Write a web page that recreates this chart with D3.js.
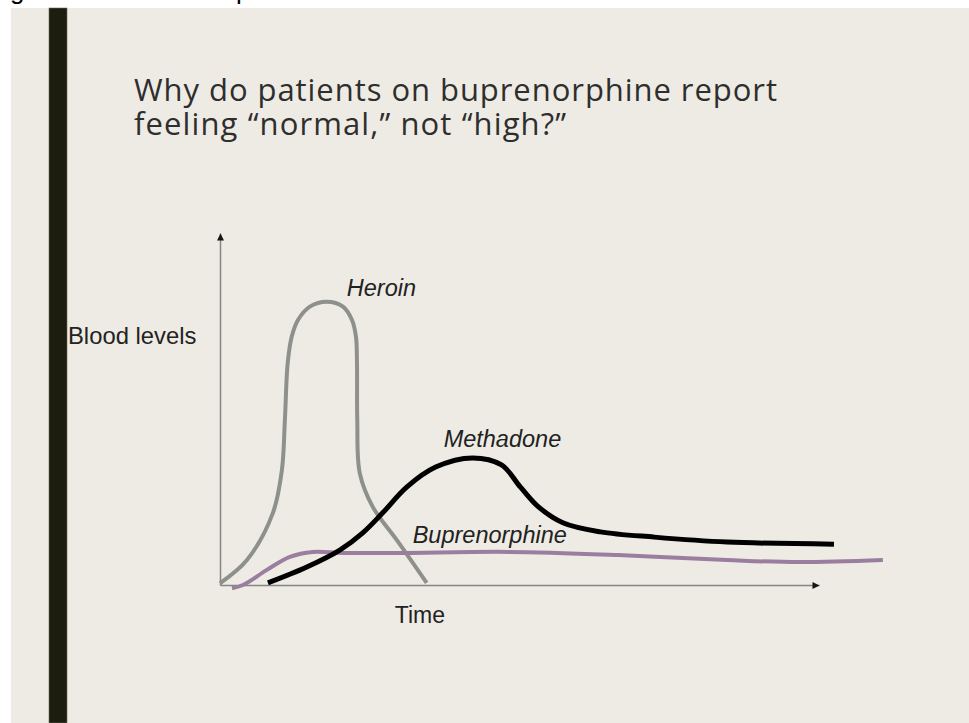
<!DOCTYPE html>
<html>
<head>
<meta charset="utf-8">
<script src="https://cdn.jsdelivr.net/npm/d3@7"></script>
<style>
  body { margin: 0; background: #ffffff; }
  svg { display: block; }
</style>
</head>
<body>
<svg id="canvas" width="969" height="723"></svg>
<script>
// title text
let titleLines = ['Why do patients on buprenorphine report', 'feeling \u201cnormal,\u201d not \u201chigh?\u201d']

// curves: [time, blood level]
let heroin = [[0, 0.5], [2.7, 7.1], [5.3, 20.5], [6.2, 32.7], [6.5, 46.9], [6.78, 63.0], [7.18, 70.5],
    [7.81, 75.3], [9.0, 79.1], [10.69, 80.5], [12.32, 79.1], [13.22, 75.3], [13.62, 70.5], [13.72, 63.0],
    [13.75, 46.9], [14.0, 31.8], [15.3, 22.2], [17.7, 12.8], [20.7, 0.6]]
let methadone = [[4.8, 0.6], [8.7, 5.1], [12.0, 9.9], [14.3, 14.8], [16.3, 20.5], [18.7, 27.8], [21.6, 33.5],
    [25.3, 36.1], [28.2, 34.1], [30.1, 27.8], [31.9, 22.2], [34.4, 17.6], [38.1, 15.1], [43.5, 13.6],
    [50.8, 12.2], [61.5, 11.6]]
let buprenorphine = [[1.2, -0.9], [2.3, 0], [4.7, 4.3], [7.0, 8.0], [9.3, 9.4], [12.3, 9.1], [18.0, 9.1],
    [28.9, 9.4], [39.9, 8.5], [50.8, 7.1], [58.0, 6.5], [66.4, 7.1]]

let curveNames = ['Heroin', 'Buprenorphine', 'Methadone']
let curveColors = ['#8e908b', '#9b7e9f', '#000000']
let curveWidths = [4, 4, 5]
let labelTimes = [12.7, 19.3, 22.4]
let labelLevels = [82.1, 11.9, 39.1]

let timeDomain = [0, 60]
let levelDomain = [0, 100]

let canvas = d3.select('#canvas')

let xScale = d3.scaleLinear().domain(timeDomain).range([220, 819])
let yScale = d3.scaleLinear().domain(levelDomain).range([585, 233])

// slide background
canvas.append('rect')
    .attr('x', 11).attr('y', 8)
    .attr('width', 958).attr('height', 715)
    .attr('fill', '#eeebe4')

canvas.append('rect')
    .attr('x', 49).attr('y', 8)
    .attr('width', 18).attr('height', 715)
    .attr('fill', '#1c1c0f')
    .attr('stroke', '#6b6b5c')
    .attr('stroke-width', 0.6)

// cut-off text from the page above
canvas.append('text').attr('x', 10).attr('y', -1)
    .style('font', '26px "Liberation Sans", Arial, sans-serif').text('g')
canvas.append('text').attr('x', 236).attr('y', -1)
    .style('font', '26px "Liberation Sans", Arial, sans-serif').text('p')

// title
let titleWidths = [643, 432]
canvas.append('text')
    .attr('x', 134)
    .attr('fill', '#2e2e2e')
    .style('font-family', '"Open Sans", sans-serif')
    .style('font-size', '31px')
    .selectAll('tspan')
    .data(titleLines)
    .enter().append('tspan')
    .attr('x', 134)
    .attr('y', (d, i) => 101 + i * 34)
    .attr('textLength', (d, i) => titleWidths[i])
    .attr('lengthAdjust', 'spacing')
    .text(d => d)

// arrow markers
let defs = canvas.append('defs')
defs.append('marker')
    .attr('id', 'arrowX')
    .attr('viewBox', '0 0 10 10')
    .attr('refX', 10).attr('refY', 5)
    .attr('markerWidth', 9).attr('markerHeight', 7)
    .attr('markerUnits', 'userSpaceOnUse')
    .attr('orient', 0)
    .append('path').attr('d', 'M0,0L10,5L0,10z').attr('fill', '#151515')
defs.append('marker')
    .attr('id', 'arrowY')
    .attr('viewBox', '0 0 10 10')
    .attr('refX', 10).attr('refY', 5)
    .attr('markerWidth', 9).attr('markerHeight', 7)
    .attr('markerUnits', 'userSpaceOnUse')
    .attr('orient', -90)
    .append('path').attr('d', 'M0,0L10,5L0,10z').attr('fill', '#151515')

// axes (no ticks)
let xAxisG = canvas.append('g')
    .attr('transform', 'translate(0,' + yScale(0) + ')')
    .call(d3.axisBottom(xScale).tickValues([]).tickSizeOuter(0))
xAxisG.select('.domain')
    .attr('stroke', '#858585')
    .attr('stroke-width', 1.5)
    .attr('marker-end', 'url(#arrowX)')

let yAxisG = canvas.append('g')
    .attr('transform', 'translate(' + xScale(0) + ',0)')
    .call(d3.axisLeft(yScale).tickValues([]).tickSizeOuter(0))
yAxisG.select('.domain')
    .attr('stroke', '#858585')
    .attr('stroke-width', 1.5)
    .attr('marker-end', 'url(#arrowY)')

// axis titles
canvas.append('text')
    .attr('x', xScale(17.5)).attr('y', 623)
    .attr('fill', '#222')
    .style('font', '23px "Liberation Sans", Arial, sans-serif')
    .text('Time')

canvas.append('text')
    .attr('x', 68).attr('y', 344)
    .attr('fill', '#222')
    .style('font', '23.8px "Liberation Sans", Arial, sans-serif')
    .text('Blood levels')

// curves
let line = d3.line()
    .x(d => xScale(d[0]))
    .y(d => yScale(d[1]))
    .curve(d3.curveCatmullRom.alpha(0.5))

let curveData = [heroin, buprenorphine, methadone]

canvas.selectAll('path.curve')
    .data(curveData)
    .enter()
    .append('path')
    .attr('class', 'curve')
    .attr('d', d => line(d))
    .attr('fill', 'none')
    .attr('stroke', (d, i) => curveColors[i])
    .attr('stroke-width', (d, i) => curveWidths[i])
    .attr('stroke-linecap', 'butt')

canvas.selectAll('text.curve-label')
    .data(curveNames)
    .enter()
    .append('text')
    .attr('class', 'curve-label')
    .attr('x', (d, i) => xScale(labelTimes[i]))
    .attr('y', (d, i) => yScale(labelLevels[i]))
    .attr('fill', '#222')
    .style('font', 'italic 23.5px "Liberation Sans", Arial, sans-serif')
    .text(d => d)
</script>
</body>
</html>
